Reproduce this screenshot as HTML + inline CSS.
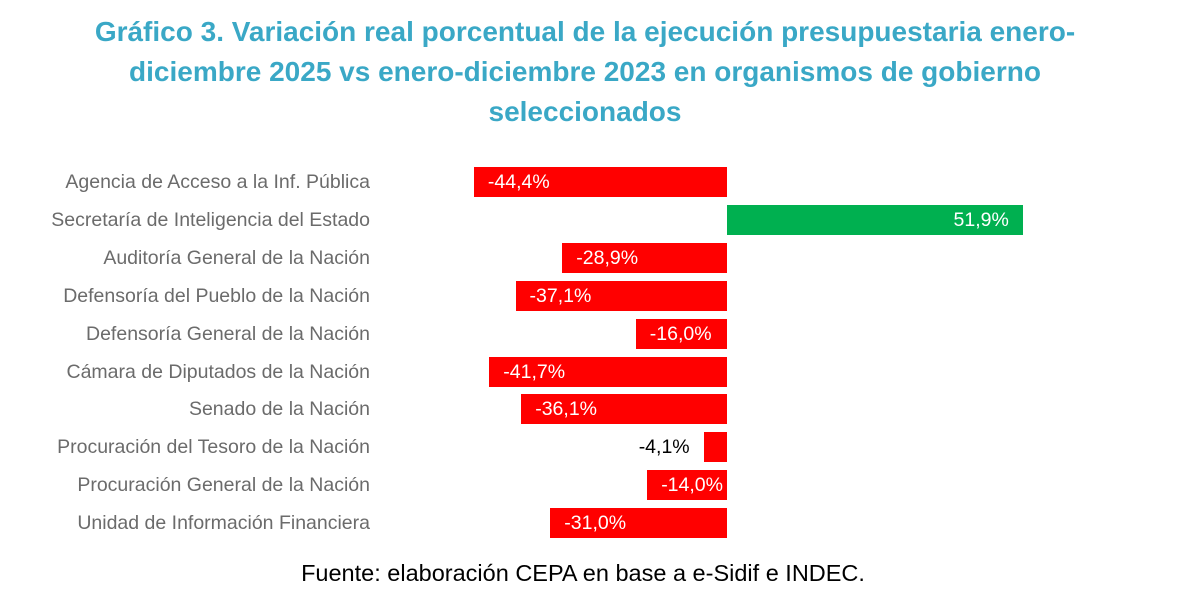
<!DOCTYPE html>
<html><head><meta charset="utf-8"><style>
body{margin:0;width:1180px;height:599px;background:#fff;overflow:hidden;font-family:"Liberation Sans",sans-serif;position:relative}
.t{position:absolute;left:0;width:1170px;text-align:center;color:#3aa8c6;font-weight:bold;font-size:28px;line-height:40px;top:12px}
.l{position:absolute;right:810px;color:#6b6b6b;font-size:19.5px;white-space:nowrap;line-height:20px}
.b{position:absolute;height:30px}
.v{position:absolute;color:#fff;font-size:19.5px;line-height:30px;white-space:nowrap}
.f{position:absolute;top:560px;left:0;width:1166px;text-align:center;font-size:23.5px;color:#000}
</style></head><body>
<div class="t">Gráfico 3. Variación real porcentual de la ejecución presupuestaria enero-<br>diciembre 2025 vs enero-diciembre 2023 en organismos de gobierno<br>seleccionados</div>
<div id="c"></div>
<div class="f">Fuente: elaboración CEPA en base a e-Sidif e INDEC.</div>
<script>
var d=[["Agencia de Acceso a la Inf. Pública",-44.4],["Secretaría de Inteligencia del Estado",51.9],["Auditoría General de la Nación",-28.9],["Defensoría del Pueblo de la Nación",-37.1],["Defensoría General de la Nación",-16.0],["Cámara de Diputados de la Nación",-41.7],["Senado de la Nación",-36.1],["Procuración del Tesoro de la Nación",-4.1],["Procuración General de la Nación",-14.0],["Unidad de Información Financiera",-31.0]];
var h="",z=727,k=5.7;
d.forEach(function(r,i){var c=182+i*37.9,v=r[1],w=Math.abs(v)*k,x=v<0?z-w:z;
var s=(v<0?"-":"")+Math.abs(v).toFixed(1).replace(".",",")+"%";
h+='<div class="l" style="top:'+(c-10)+'px">'+r[0]+'</div>';
h+='<div class="b" style="top:'+(c-15)+'px;left:'+x+'px;width:'+w+'px;background:'+(v<0?'#ff0000':'#00b050')+'"></div>';
if(v>0)h+='<div class="v" style="top:'+(c-15)+'px;right:'+(1180-x-w+14)+'px">'+s+'</div>';
else if(w<40)h+='<div class="v" style="color:#000;top:'+(c-15)+'px;right:'+(1180-x+14)+'px">'+s+'</div>';
else h+='<div class="v" style="top:'+(c-15)+'px;left:'+(x+14)+'px">'+s+'</div>';});
document.getElementById("c").innerHTML=h;
</script>
</body></html>
